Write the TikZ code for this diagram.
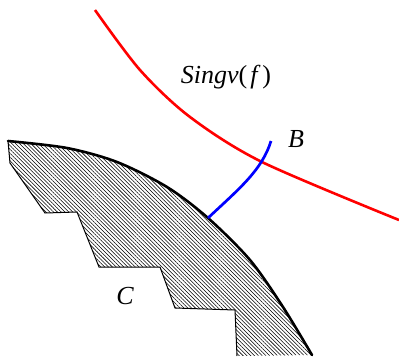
\documentclass[tikz,border=0pt]{standalone}
\usepackage{fontspec}
\setmainfont{Liberation Serif}
\newfontfamily\lblfont{Liberation Serif}
\usetikzlibrary{patterns.meta}
\begin{document}
\begin{tikzpicture}[x=1pt,y=-1pt,
  lbl/.style={font=\lblfont\fontsize{26}{30}\selectfont\itshape, inner sep=0pt},
  regionfill/.style={pattern={Lines[angle=-45,distance=2.7pt,line width=0.55pt]}, pattern color=black},
  thinedge/.style={line width=1pt, line join=miter},
  thickedge/.style={line width=2.6pt, line cap=round},
  redcurve/.style={draw=red, line width=2.6pt},
  bluecurve/.style={draw=blue, line width=2.7pt}]
\useasboundingbox (0,0) rectangle (399,357);
% region C
\coordinate (t0) at (8,141);
\coordinate (s1) at (10,163);
\coordinate (s2) at (45,213);
\coordinate (s3) at (77,212);
\coordinate (s4) at (99,267);
\coordinate (s5) at (160,267);
\coordinate (s6) at (175,308);
\coordinate (s7) at (235,310);
\coordinate (s8) at (237,356);
\coordinate (b0) at (208,218);
\coordinate (b1) at (271,141);
\fill[regionfill] plot[smooth] coordinates {(8,141) (67,148) (117,162) (167,187) (208,218) (250,260) (283,307) (312,355)}
  -- (s8) -- (s7) -- (s6) -- (s5) -- (s4) -- (s3) -- (s2) -- (s1) -- cycle;
\draw[thinedge] (t0) -- (s1) -- (s2) -- (s3) -- (s4) -- (s5) -- (s6) -- (s7) -- (s8);
\draw[thickedge] plot[smooth] coordinates {(8,141) (67,148) (117,162) (167,187) (208,218) (250,260) (283,307) (312,355)};
% curves
\draw[redcurve] plot[smooth] coordinates {(95,10) (140,70) (190,117) (262,162) (399,220)};
\draw[bluecurve] (b0) .. controls (240,188) and (262,170) .. (b1);
% labels
\node[lbl, anchor=base] (sing) at (226,83) {Singv\upshape(\kern3pt\itshape f\kern5pt\upshape)};
\node[lbl] (B) at (296,139) {B};
\node[lbl] (C) at (125,296) {C};
\end{tikzpicture}
\end{document}
